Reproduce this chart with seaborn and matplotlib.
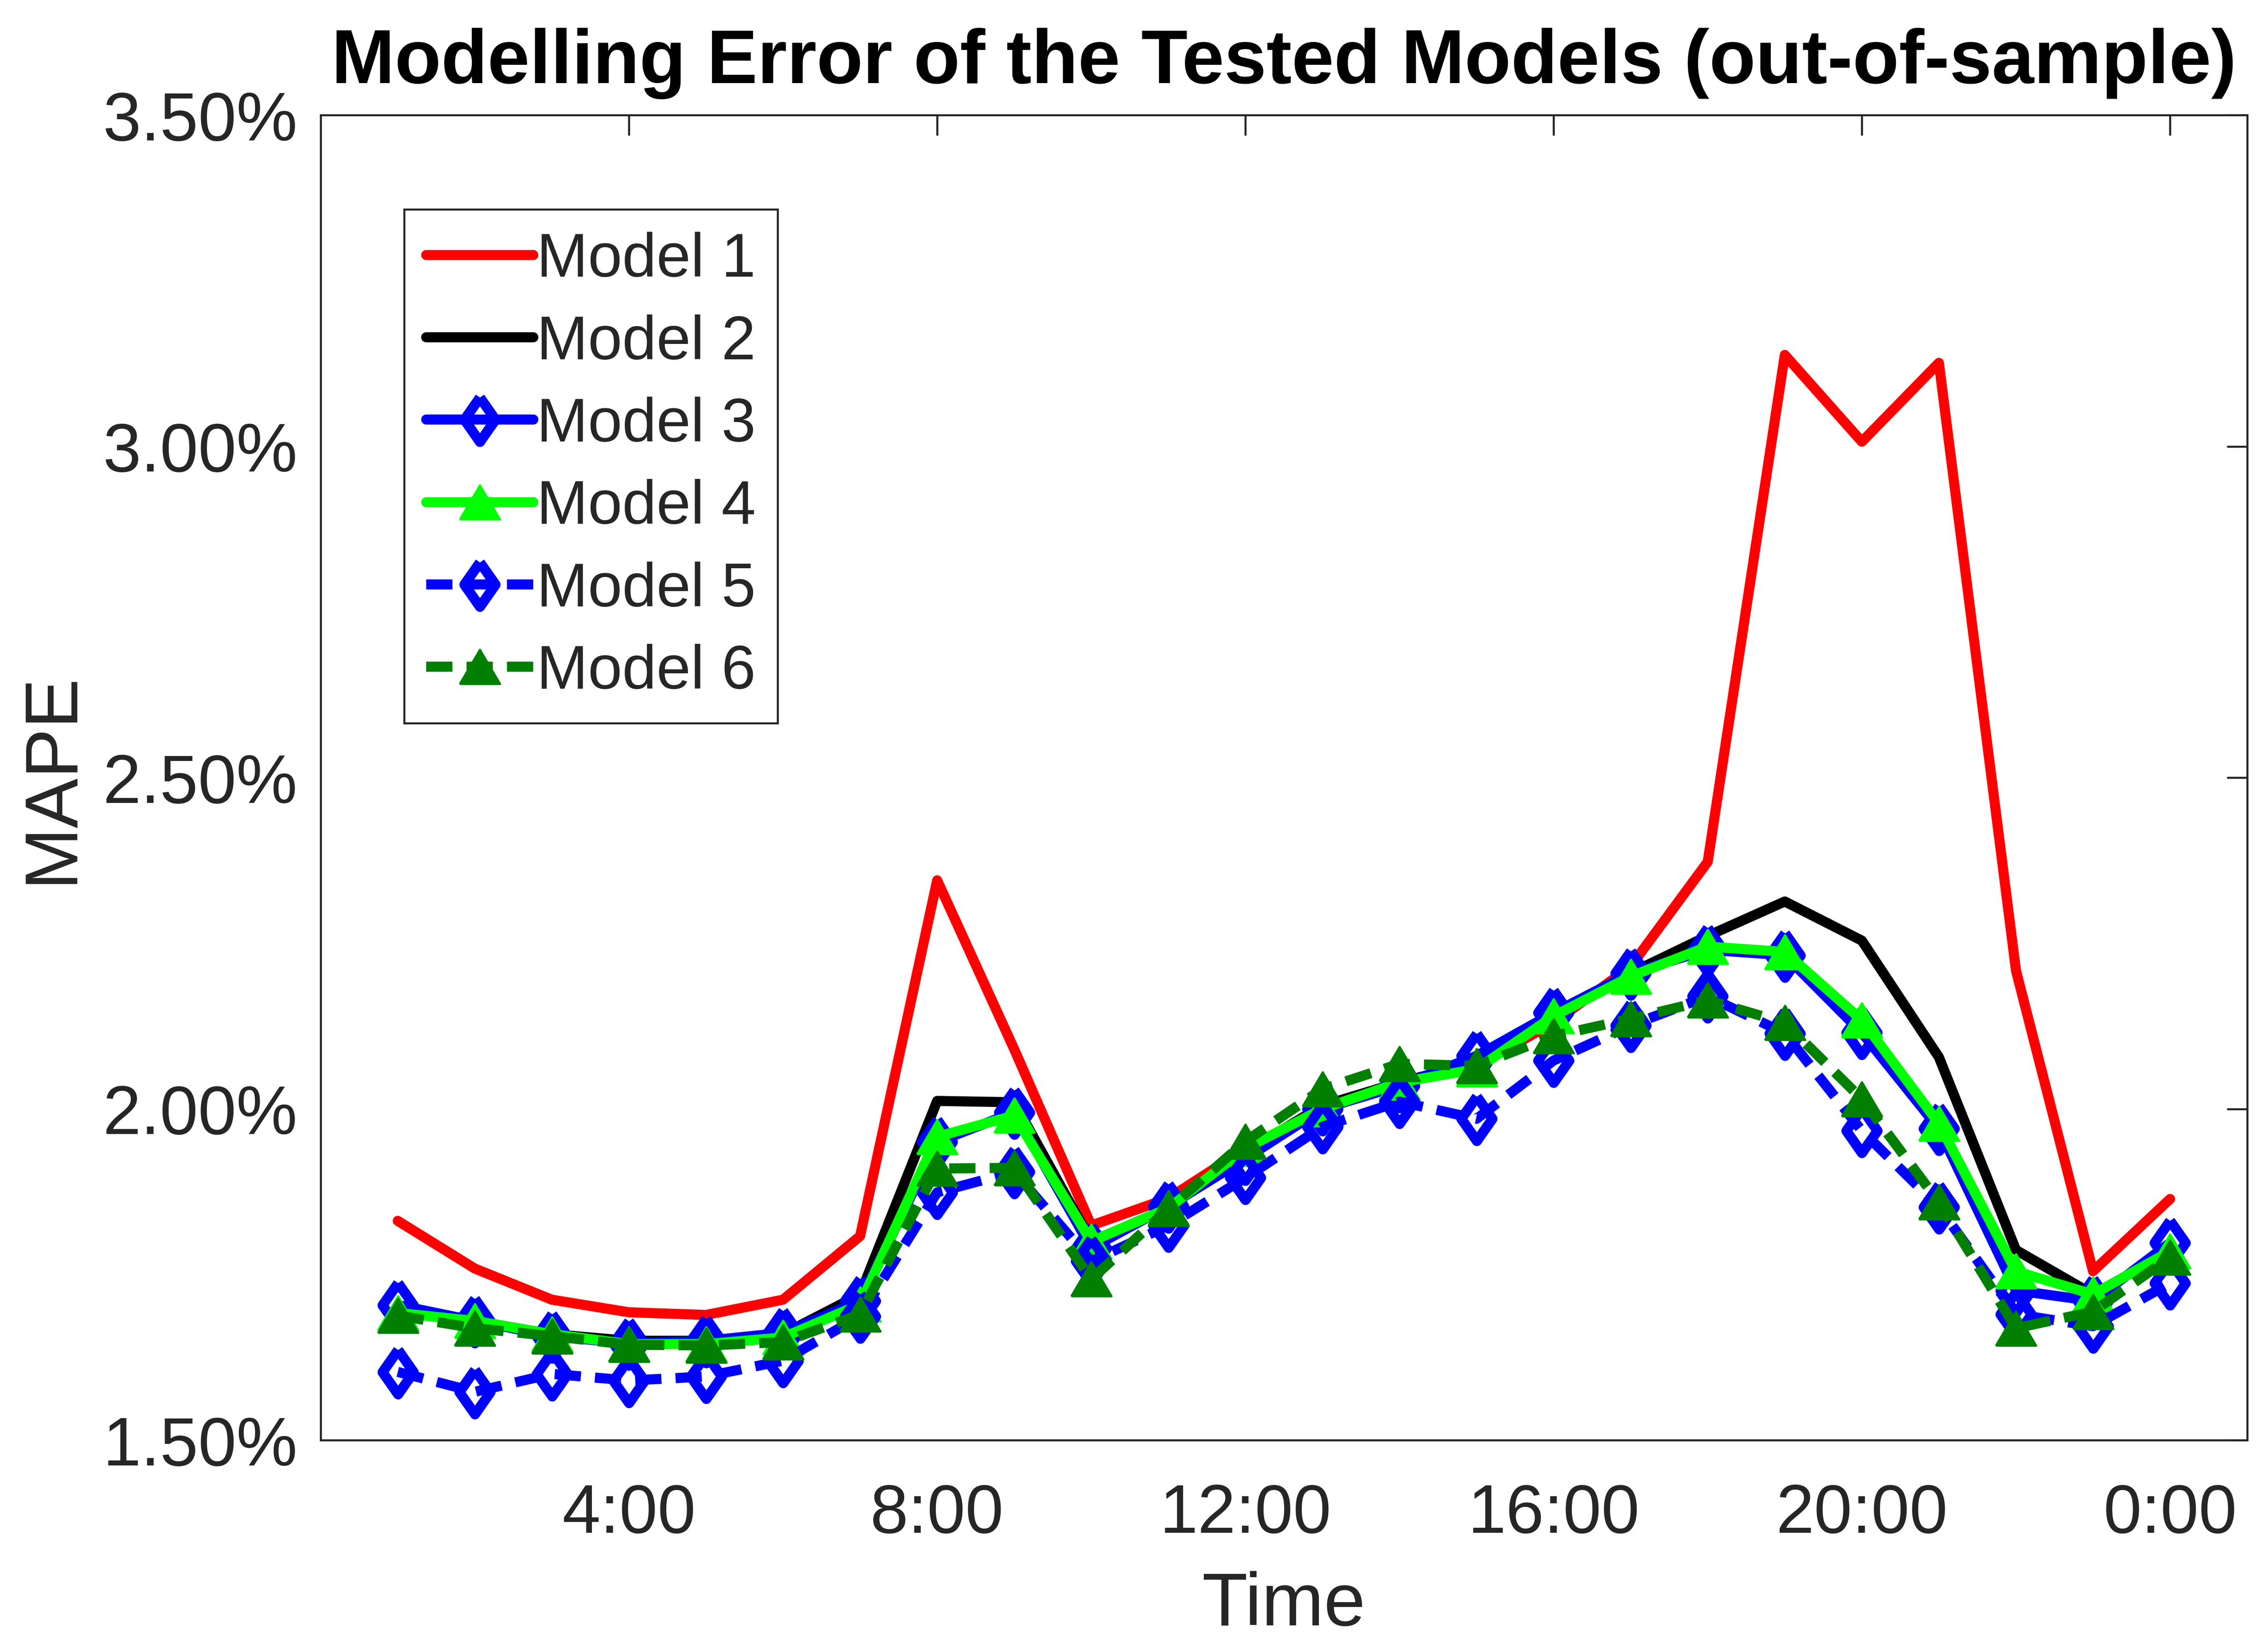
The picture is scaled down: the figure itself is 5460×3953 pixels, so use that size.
import seaborn as sns
from matplotlib import pyplot as plt
from matplotlib.markers import MarkerStyle

# hour of day, 24 == 0:00
hours = list(range(1, 25))

model_1 = [1.831, 1.759, 1.712, 1.693, 1.689, 1.712, 1.808, 2.345, 2.090, 1.824, 1.865, 1.940,
           2.000, 2.040, 2.065, 2.130, 2.215, 2.373, 3.138, 3.007, 3.126, 2.209, 1.755, 1.864]
model_2 = [1.700, 1.680, 1.660, 1.650, 1.650, 1.660, 1.720, 2.012, 2.010, 1.800, 1.850, 1.935,
           2.005, 2.040, 2.070, 2.140, 2.205, 2.261, 2.313, 2.254, 2.078, 1.787, 1.720, 1.785]
model_3 = [1.704, 1.680, 1.657, 1.646, 1.650, 1.662, 1.710, 1.950, 1.995, 1.790, 1.853, 1.925,
           2.000, 2.035, 2.080, 2.145, 2.205, 2.240, 2.232, 2.115, 1.970, 1.726, 1.710, 1.798]
model_4 = [1.692, 1.680, 1.660, 1.645, 1.645, 1.655, 1.705, 1.958, 1.990, 1.800, 1.850, 1.940,
           2.000, 2.040, 2.060, 2.140, 2.200, 2.245, 2.237, 2.134, 1.978, 1.755, 1.720, 1.785]
model_5 = [1.603, 1.573, 1.600, 1.590, 1.596, 1.620, 1.687, 1.874, 1.905, 1.770, 1.824, 1.896,
           1.973, 2.011, 1.985, 2.073, 2.126, 2.170, 2.114, 1.967, 1.852, 1.690, 1.672, 1.737]
model_6 = [1.688, 1.669, 1.657, 1.644, 1.643, 1.648, 1.690, 1.910, 1.911, 1.743, 1.849, 1.951,
           2.030, 2.068, 2.065, 2.110, 2.136, 2.164, 2.130, 2.015, 1.859, 1.669, 1.694, 1.776]

labels = ["Model 1", "Model 2", "Model 3", "Model 4", "Model 5", "Model 6"]
x_ticks = [4, 8, 12, 16, 20, 24]
x_ticklabels = ["4:00", "8:00", "12:00", "16:00", "20:00", "0:00"]
y_ticks = [1.5, 2.0, 2.5, 3.0, 3.5]
y_ticklabels = ["1.50%", "2.00%", "2.50%", "3.00%", "3.50%"]

sns.set_style("white")
plt.rcParams['font.family'] = ['Liberation Sans', 'DejaVu Sans']

GREY = "#262626"
LW = 5
# closed outlines so the whole edge gets stroked
diamond = MarkerStyle([(0, 1), (0.7, 0), (0, -1), (-0.7, 0), (0, 1)], joinstyle="miter")
triangle = MarkerStyle([(-1, -0.85), (1, -0.85), (0, 0.85), (-1, -0.85)], joinstyle="miter")
dash = (0, (2.6, 1.4))

fig = plt.figure(figsize=(15.6, 11.297), dpi=350)
ax = fig.add_axes([0.1414, 0.1229, 0.9908 - 0.1414, 0.9297 - 0.1229])

styles = [
    dict(color="#ff0000", marker=None, linestyle="-"),
    dict(color="#000000", marker=None, linestyle="-"),
    dict(color="#0000ff", marker=diamond, markersize=22, markerfacecolor="none",
         markeredgecolor="#0000ff", markeredgewidth=LW, linestyle="-"),
    dict(color="#00ff00", marker=triangle, markersize=20, markerfacecolor="#00ff00",
         markeredgecolor="#00ff00", markeredgewidth=1, linestyle="-"),
    dict(color="#0000ff", marker=diamond, markersize=22, markerfacecolor="none",
         markeredgecolor="#0000ff", markeredgewidth=LW, linestyle=dash),
    dict(color="#007f00", marker=triangle, markersize=20, markerfacecolor="#007f00",
         markeredgecolor="#007f00", markeredgewidth=1, linestyle=dash),
]

for values, label, st in zip([model_1, model_2, model_3, model_4, model_5, model_6], labels, styles):
    sns.lineplot(x=hours, y=values, ax=ax, label=label, linewidth=LW, **st)

ax.set_xlim(0, 25)
ax.set_ylim(1.5, 3.5)
ax.set_xticks(x_ticks)
ax.set_xticklabels(x_ticklabels)
ax.set_yticks(y_ticks)
ax.set_yticklabels(y_ticklabels)
ax.tick_params(axis='both', which='both', direction='in', length=10, width=1,
               colors=GREY, labelsize=34, top=True, right=True)
ax.tick_params(axis='x', pad=21)
ax.tick_params(axis='y', pad=11.5)
for sp in ax.spines.values():
    sp.set_visible(True)
    sp.set_color(GREY)
    sp.set_linewidth(1)

ax.set_xlabel("Time", fontsize=37, color=GREY, labelpad=12)
ax.set_ylabel("MAPE", fontsize=37, color=GREY, labelpad=8)
ax.set_title("Modelling Error of the Tested Models (out-of-sample)",
             fontsize=37.6, fontweight="bold", color="black", pad=16)

leg = ax.legend(loc="upper left", bbox_to_anchor=(0.0433, 0.9288), borderaxespad=0,
                fontsize=30.5, frameon=True, fancybox=False, edgecolor=GREY, framealpha=1,
                handlelength=1.74, handletextpad=0.05, labelspacing=0.4, borderpad=0.36)
leg.get_frame().set_linewidth(1)

fig.savefig("out.png", dpi=350)
plt.close(fig)
